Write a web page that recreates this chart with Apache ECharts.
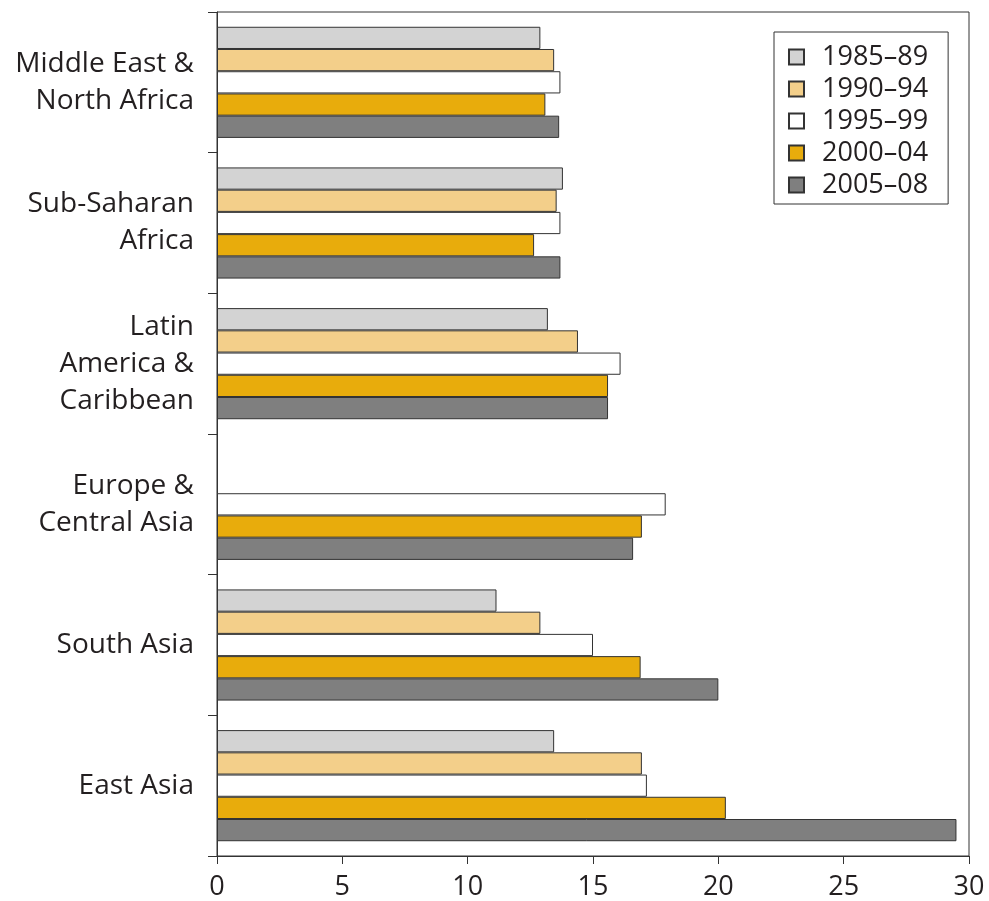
<!DOCTYPE html>
<html>
<head>
<meta charset="utf-8">
<script src="https://cdn.jsdelivr.net/npm/echarts@6/dist/echarts.min.js"></script>
<style>
html,body{margin:0;padding:0;background:#fff;}
#chart{width:989px;height:901px;}
</style>
</head>
<body>
<div id="chart"></div>
<script>
const categories = ["Middle East &\nNorth Africa", "Sub-Saharan\nAfrica", "Latin\nAmerica &\nCaribbean", "Europe &\nCentral Asia", "South Asia", "East Asia"];
const seriesNames = ["1985–89", "1990–94", "1995–99", "2000–04", "2005–08"];
const v1985 = [12.9, 13.8, 13.2, null, 11.15, 13.45];
const v1990 = [13.45, 13.55, 14.4, null, 12.9, 16.95];
const v1995 = [13.7, 13.7, 16.1, 17.9, 15.0, 17.15];
const v2000 = [13.1, 12.65, 15.6, 16.95, 16.9, 20.3];
const v2005 = [13.65, 13.7, 15.6, 16.6, 20.0, 29.5];
const xTicks = [0, 5, 10, 15, 20, 25, 30];

const colors = ["#d3d3d3", "#f3cf8a", "#ffffff", "#e8ac0c", "#7f7f7f"];
const dataSets = [v1985, v1990, v1995, v2000, v2005];

const chart = echarts.init(document.getElementById('chart'), null, {renderer: 'canvas'});
const font = "'Open Sans', sans-serif";
chart.setOption({
  animation: false,
  backgroundColor: '#fff',
  grid: {left: 217, right: 20, top: 12, bottom: 44, show: true, borderColor: '#333', borderWidth: 1, backgroundColor: 'transparent'},
  legend: {
    orient: 'vertical', left: 774, top: 32,
    icon: 'rect',
    itemWidth: 15, itemHeight: 15, itemGap: 0,
    padding: [9, 20, 3, 14],
    borderColor: '#333', borderWidth: 1,
    align: 'left',
    textStyle: {fontFamily: font, fontSize: 27, lineHeight: 32, color: '#231f20', padding: [0, 0, 0, 13]},
    data: seriesNames
  },
  xAxis: {
    type: 'value', min: xTicks[0], max: xTicks[xTicks.length - 1], interval: 5,
    axisLine: {show: true, lineStyle: {color: '#333', width: 1}},
    axisTick: {show: true, length: 8, lineStyle: {color: '#333'}},
    splitLine: {show: false},
    axisLabel: {fontFamily: font, fontSize: 27, color: '#231f20', margin: 18}
  },
  yAxis: {
    type: 'category', data: categories, inverse: true,
    axisLine: {show: true, lineStyle: {color: '#333', width: 1}},
    axisTick: {show: true, length: 9, lineStyle: {color: '#333'}},
    axisLabel: {fontFamily: font, fontSize: 28, color: '#231f20', margin: 23, lineHeight: 37, align: 'right'}
  },
  series: dataSets.map((d, i) => ({
    name: seriesNames[i], type: 'bar', data: d,
    barGap: '0%', barCategoryGap: '21%',
    itemStyle: {color: colors[i], borderColor: '#333', borderWidth: 1}
  }))
});
</script>
</body>
</html>
